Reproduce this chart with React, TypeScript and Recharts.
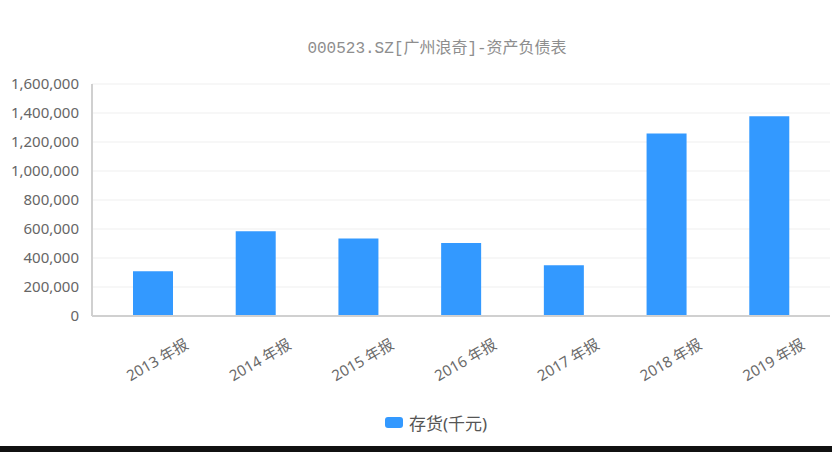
import { BarChart, Bar, XAxis, YAxis, CartesianGrid, Legend } from "recharts";

const years = ["2013 年报", "2014 年报", "2015 年报", "2016 年报", "2017 年报", "2018 年报", "2019 年报"];
const inventory = [308000, 584000, 534000, 503000, 350000, 1258000, 1377000];
const yTicks = [0, 200000, 400000, 600000, 800000, 1000000, 1200000, 1400000, 1600000];

const seriesName = "存货(千元)";
const title = "000523.SZ[广州浪奇]-资产负债表";

const data = years.map((year, i) => ({ year, value: inventory[i] }));

const font = "'Noto Sans', 'Noto Sans CJK SC', sans-serif";

const XTick = (props: any) => {
  const { x, y, payload } = props;
  return (
    <text
      transform={`translate(${x + 4},${y + 36}) rotate(-30)`}
      textAnchor="middle"
      dy="0.35em"
      fill="#6a6a6a"
      fontSize={15}
      fontFamily={font}
    >
      {payload.value}
    </text>
  );
};

const LegendContent = (props: any) => {
  const { payload } = props;
  return (
    <div style={{ display: "flex", justifyContent: "center", alignItems: "center", paddingLeft: 34 }}>
      {payload.map((entry: any) => (
        <div key={entry.value} style={{ display: "flex", alignItems: "center" }}>
          <span
            style={{
              display: "inline-block",
              width: 18,
              height: 11,
              borderRadius: 3,
              background: entry.color,
              marginRight: 6,
            }}
          />
          <span style={{ color: "#555", fontSize: 17, fontFamily: font }}>{entry.value}</span>
        </div>
      ))}
    </div>
  );
};

const App = () => {
  return (
    <div style={{ position: "fixed", left: 0, top: 0, width: 832, height: 452, background: "#fff" }}>
      <div
        style={{
          position: "absolute",
          top: 34,
          left: 0,
          width: 874,
          textAlign: "center",
          fontSize: 16,
          color: "#8e8e8e",
          fontFamily: "'Liberation Mono', 'Noto Sans CJK SC', monospace",
        }}
      >
        {title}
      </div>
      <BarChart
        width={832}
        height={446}
        data={data}
        margin={{ top: 84, right: 2, bottom: 12, left: 8 }}
      >
        <CartesianGrid vertical={false} stroke="#efefef" />
        <XAxis
          dataKey="year"
          interval={0}
          height={94}
          padding={{ left: 10, right: 9 }}
          stroke="#d0d0d0"
          strokeWidth={2}
          tickLine={false}
          tick={<XTick />}
        />
        <YAxis
          width={84}
          domain={[0, 1600000]}
          ticks={yTicks}
          stroke="#d0d0d0"
          strokeWidth={2}
          tickLine={false}
          tickMargin={7}
          tick={{ fill: "#666", fontSize: 15, fontFamily: font }}
          tickFormatter={(v: number) => v.toLocaleString("en-US")}
        />
        <Legend verticalAlign="bottom" height={24} content={<LegendContent />} />
        <Bar dataKey="value" name={seriesName} fill="#3399ff" barSize={40} isAnimationActive={false} />
      </BarChart>
      <div style={{ position: "absolute", left: 0, top: 446, width: 832, height: 6, background: "#111" }} />
    </div>
  );
};

export default App;
